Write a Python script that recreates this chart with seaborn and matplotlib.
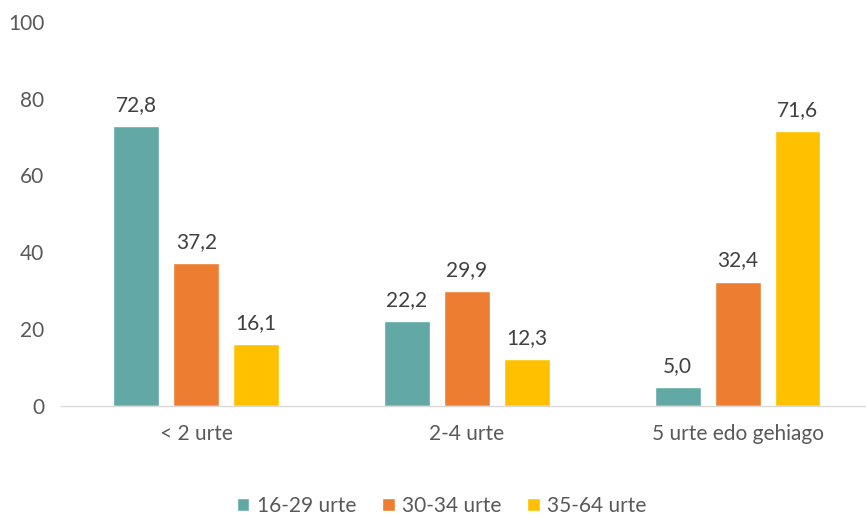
import pandas as pd
import seaborn as sns
import matplotlib.pyplot as plt

categories = ["< 2 urte", "2-4 urte", "5 urte edo gehiago"]
groups = ["16-29 urte", "30-34 urte", "35-64 urte"]
v_16_29 = [72.8, 22.2, 5.0]
v_30_34 = [37.2, 29.9, 32.4]
v_35_64 = [16.1, 12.3, 71.6]
colors = ["#62A8A4", "#ED7D31", "#FFC000"]

rows = []
for g, vals in zip(groups, [v_16_29, v_30_34, v_35_64]):
    for c, v in zip(categories, vals):
        rows.append({"cat": c, "group": g, "value": v})
df = pd.DataFrame(rows)

sns.set_style("white")
plt.rcParams["font.family"] = ["Lato", "DejaVu Sans"]
txt = "#595959"
fs = 15

fig = plt.figure(figsize=(8.66, 5.18), dpi=100)
ax = fig.add_axes([0.0704, 0.216, 0.9376, 0.742])

sns.barplot(data=df, x="cat", y="value", hue="group", order=categories,
            hue_order=groups, palette=colors, width=0.664, gap=0.233,
            saturation=1, ax=ax, legend=True)

for cont in ax.containers:
    labels = [f"{b.get_height():.1f}".replace(".", ",") for b in cont]
    ax.bar_label(cont, labels=labels, padding=8, fontsize=fs, color="#404040")

ax.set_ylim(0, 100)
ax.set_xlim(-0.5, 2.5)
ax.set_yticks([0, 20, 40, 60, 80, 100])
ax.set_xlabel("")
ax.set_ylabel("")
ax.tick_params(axis="both", length=0, labelsize=fs, colors=txt)
ax.tick_params(axis="y", pad=12)
ax.tick_params(axis="x", pad=13)
for s in ["top", "right", "left"]:
    ax.spines[s].set_visible(False)
ax.spines["bottom"].set_color("#D9D9D9")
ax.spines["bottom"].set_linewidth(1)

handles, labels = ax.get_legend_handles_labels()
ax.legend(handles, labels, loc="lower center", bbox_to_anchor=(0.469, -0.335),
          ncol=3, frameon=False, fontsize=fs, labelcolor=txt,
          handlelength=0.6, handleheight=0.6, handletextpad=0.35,
          columnspacing=1.25)

fig.savefig("out.png", dpi=100)
